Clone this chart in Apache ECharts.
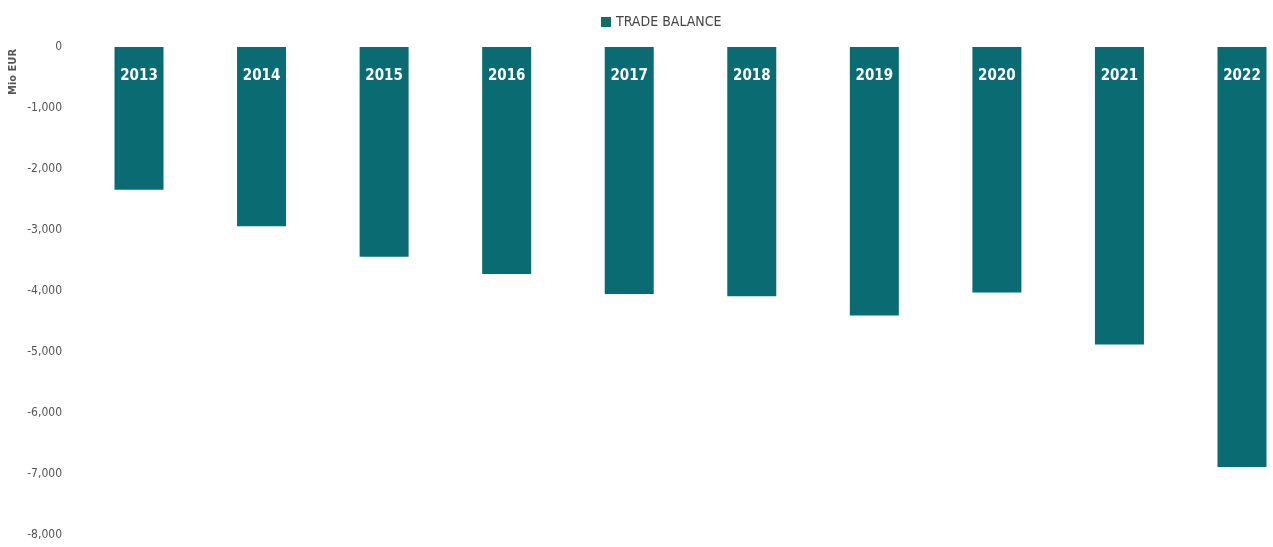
<!DOCTYPE html>
<html><head><meta charset="utf-8">
<script src="https://cdn.jsdelivr.net/npm/echarts@6/dist/echarts.min.js"></script>
<style>html,body{margin:0;padding:0;background:#fff}#c{width:1273px;height:547px}</style>
</head><body><div id="c"></div>
<script>
const years = ['2013','2014','2015','2016','2017','2018','2019','2020','2021','2022'];
const tradeBalance = [-2340, -2940, -3440, -3720, -4050, -4085, -4400, -4025, -4875, -6885];
const yTicks = { min: -8000, max: 0, interval: 1000 };
const seriesName = 'TRADE BALANCE';
const unitLabel = 'Mio EUR';

const chart = echarts.init(document.getElementById('c'));
chart.setOption({
  animation: false,
  backgroundColor: '#fff',
  legend: {
    top: 10, left: 596,
    itemWidth: 10, itemHeight: 10, itemGap: 6,
    icon: 'rect',
    textStyle: { color: '#444', fontSize: 14, fontFamily: 'DejaVu Sans Condensed' },
    data: [{ name: seriesName, itemStyle: { color: '#0e7060' } }]
  },
  grid: { left: 139, right: 31, top: 47, bottom: 12 },
  xAxis: {
    type: 'category', data: years, position: 'top', boundaryGap: false,
    z: 10,
    axisLine: { show: false }, axisTick: { show: false },
    axisLabel: { inside: true, margin: 29, color: '#fff', fontWeight: 'bold', fontSize: 15,
      fontFamily: 'DejaVu Sans Condensed', verticalAlign: 'middle' }
  },
  yAxis: {
    type: 'value', min: yTicks.min, max: yTicks.max, interval: yTicks.interval,
    splitLine: { show: false }, axisLine: { show: false }, axisTick: { show: false },
    axisLabel: { margin: 77, color: '#555', fontSize: 12, fontFamily: 'DejaVu Sans Condensed',
      formatter: v => v.toLocaleString('en-US') }
  },
  graphic: [{
    type: 'text', left: 8, top: 49, rotation: Math.PI / 2,
    style: { text: unitLabel, fill: '#555', font: 'bold 11px "DejaVu Sans Condensed"' }
  }],
  series: [{
    name: seriesName, type: 'bar', data: tradeBalance, barWidth: 49,
    itemStyle: { color: '#0b6b72' }
  }]
});
</script></body></html>
